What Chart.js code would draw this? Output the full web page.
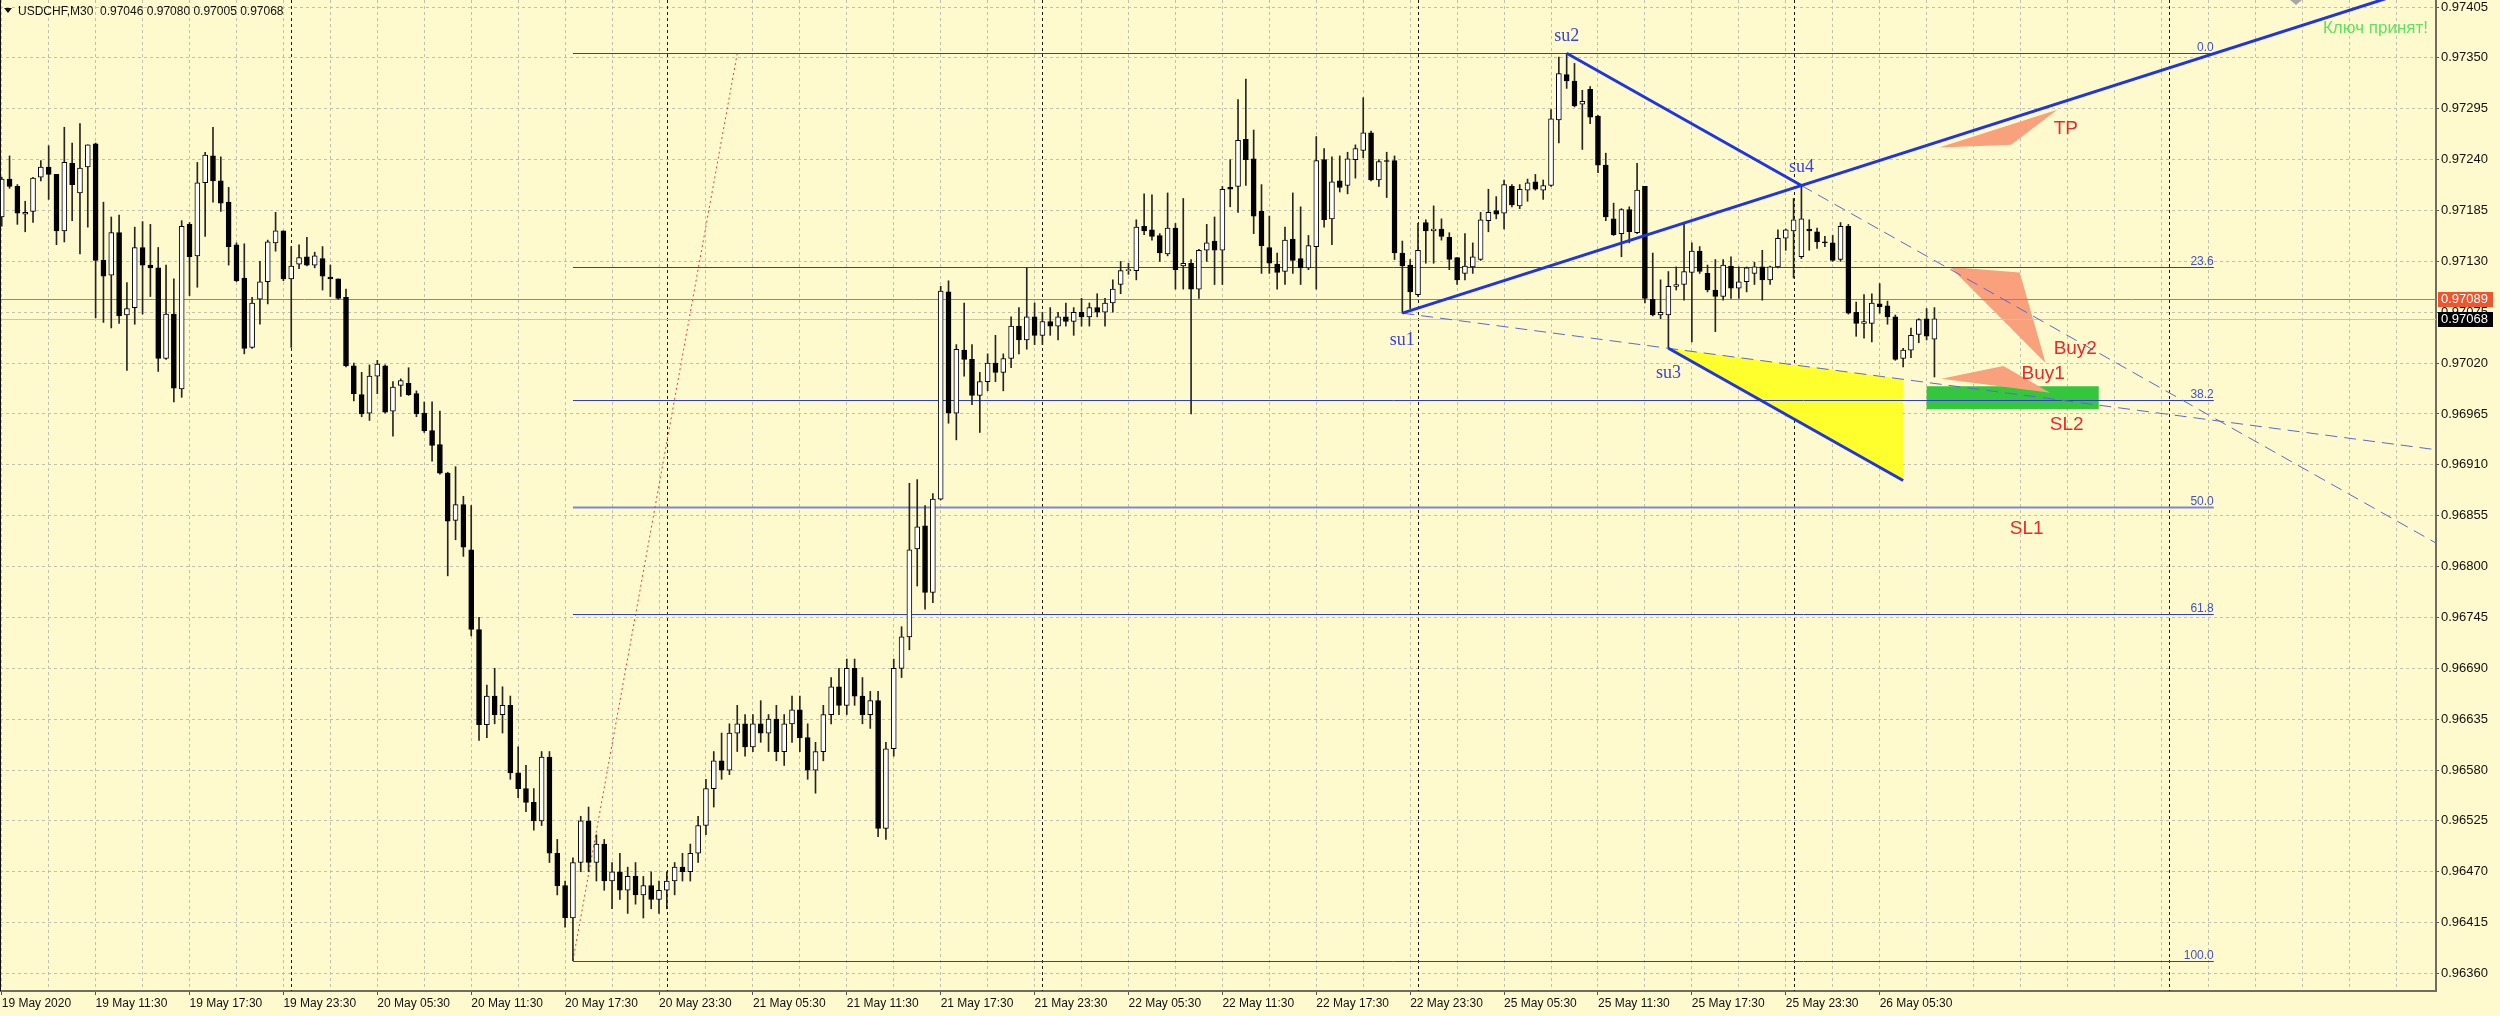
<!DOCTYPE html>
<html>
<head>
<meta charset="utf-8">
<script src="https://cdn.jsdelivr.net/npm/chart.js@4.4.1/dist/chart.umd.min.js"></script>
<style>
  html, body { margin: 0; padding: 0; background: #fffacd; }
  #wrap { width: 2500px; height: 1016px; }
</style>
</head>
<body>
<div id="wrap"><canvas id="c" width="2500" height="1016"></canvas></div>
<script>
// USDCHF M30, one entry per bar starting 19 May 05:30
const xLabels = ['19 May 2020', '19 May 11:30', '19 May 17:30', '19 May 23:30', '20 May 05:30', '20 May 11:30',
  '20 May 17:30', '20 May 23:30', '21 May 05:30', '21 May 11:30', '21 May 17:30', '21 May 23:30', '22 May 05:30',
  '22 May 11:30', '22 May 17:30', '22 May 23:30', '25 May 05:30', '25 May 11:30', '25 May 17:30', '25 May 23:30',
  '26 May 05:30'];
const yTicks = [0.96360, 0.96415, 0.96470, 0.96525, 0.96580, 0.96635, 0.96690, 0.96745, 0.96800, 0.96855,
  0.96910, 0.96965, 0.97020, 0.97075, 0.97130, 0.97185, 0.97240, 0.97295, 0.97350, 0.97405];

const openV = [
  0.97178,0.97219,0.97211,0.97181,0.97184,0.97221,0.97232,0.97224,0.97163,0.97236,0.97204,0.97232,
  0.97257,0.97131,0.97115,0.97161,0.97072,0.97080,0.97145,0.97126,0.97123,0.97025,0.97073,0.96992,
  0.97170,0.97136,0.97215,0.97244,0.97217,0.97194,0.97148,0.97112,0.97037,0.97089,0.97108,0.97150,
  0.97163,0.97111,0.97127,0.97135,0.97126,0.97133,0.97113,0.97111,0.97091,0.97017,0.96986,0.96966,
  0.97006,0.97017,0.96968,0.96996,0.96998,0.96987,0.96966,0.96947,0.96932,0.96901,0.96850,0.96867,
  0.96818,0.96732,0.96629,0.96660,0.96640,0.96650,0.96577,0.96560,0.96545,0.96525,0.96594,0.96490,
  0.96455,0.96420,0.96480,0.96525,0.96480,0.96500,0.96460,0.96470,0.96450,0.96465,0.96445,0.96455,
  0.96440,0.96450,0.96460,0.96475,0.96470,0.96490,0.96520,0.96560,0.96590,0.96580,0.96620,0.96630,
  0.96605,0.96630,0.96620,0.96635,0.96600,0.96630,0.96645,0.96615,0.96580,0.96600,0.96640,0.96670,
  0.96650,0.96690,0.96660,0.96640,0.96655,0.96517,0.96603,0.96690,0.96724,0.96819,0.96844,0.96772,
  0.96873,0.97097,0.96966,0.97034,0.97024,0.96985,0.97000,0.97020,0.97010,0.97025,0.97060,0.97045,
  0.97070,0.97050,0.97065,0.97060,0.97070,0.97065,0.97075,0.97070,0.97080,0.97075,0.97085,0.97105,
  0.97120,0.97120,0.97168,0.97164,0.97158,0.97138,0.97166,0.97125,0.97128,0.97100,0.97142,0.97152,
  0.97142,0.97210,0.97211,0.97262,0.97241,0.97184,0.97145,0.97127,0.97119,0.97154,0.97133,0.97123,
  0.97146,0.97240,0.97176,0.97217,0.97212,0.97240,0.97250,0.97269,0.97218,0.97239,0.97239,0.97139,
  0.97126,0.97094,0.97172,0.97163,0.97165,0.97156,0.97134,0.97117,0.97124,0.97132,0.97174,0.97185,
  0.97182,0.97211,0.97190,0.97207,0.97216,0.97207,0.97212,0.97283,0.97332,0.97325,0.97300,0.97316,
  0.97287,0.97234,0.97176,0.97160,0.97186,0.97161,0.97211,0.97089,0.97072,0.97072,0.97103,0.97105,
  0.97118,0.97141,0.97117,0.97099,0.97092,0.97125,0.97101,0.97108,0.97117,0.97124,0.97110,0.97124,
  0.97155,0.97163,0.97135,0.97165,0.97162,0.97151,0.97150,0.97132,0.97168,0.97075,0.97063,0.97063,
  0.97084,0.97082,0.97070,0.97025,0.97034,0.97051,0.97068,0.97046];
const highV = [
  0.97221,0.97244,0.97213,0.97195,0.97221,0.97239,0.97255,0.97224,0.97275,0.97258,0.97279,0.97256,
  0.97258,0.97194,0.97178,0.97180,0.97107,0.97167,0.97173,0.97170,0.97145,0.97126,0.97111,0.97174,
  0.97172,0.97237,0.97248,0.97275,0.97243,0.97210,0.97150,0.97149,0.97091,0.97130,0.97153,0.97183,
  0.97163,0.97146,0.97148,0.97156,0.97140,0.97146,0.97126,0.97111,0.97100,0.97020,0.97010,0.97018,
  0.97023,0.97018,0.97000,0.97003,0.97015,0.96990,0.96978,0.96978,0.96968,0.96902,0.96908,0.96876,
  0.96866,0.96745,0.96672,0.96690,0.96670,0.96660,0.96605,0.96585,0.96560,0.96600,0.96600,0.96505,
  0.96460,0.96485,0.96530,0.96540,0.96510,0.96505,0.96480,0.96490,0.96475,0.96480,0.96465,0.96470,
  0.96460,0.96470,0.96480,0.96490,0.96500,0.96530,0.96570,0.96600,0.96620,0.96630,0.96650,0.96640,
  0.96640,0.96655,0.96640,0.96650,0.96640,0.96660,0.96660,0.96630,0.96610,0.96650,0.96680,0.96690,
  0.96700,0.96700,0.96680,0.96665,0.96665,0.96610,0.96700,0.96735,0.96890,0.96894,0.96866,0.96879,
  0.97103,0.97109,0.97040,0.97085,0.97040,0.97010,0.97030,0.97050,0.97030,0.97070,0.97080,0.97123,
  0.97085,0.97075,0.97080,0.97075,0.97085,0.97080,0.97090,0.97085,0.97095,0.97090,0.97110,0.97130,
  0.97128,0.97175,0.97203,0.97202,0.97160,0.97204,0.97171,0.97198,0.97132,0.97143,0.97170,0.97178,
  0.97211,0.97240,0.97305,0.97327,0.97272,0.97213,0.97179,0.97139,0.97167,0.97204,0.97189,0.97158,
  0.97265,0.97252,0.97243,0.97244,0.97248,0.97256,0.97307,0.97271,0.97240,0.97248,0.97244,0.97152,
  0.97132,0.97171,0.97175,0.97190,0.97176,0.97161,0.97134,0.97160,0.97150,0.97183,0.97208,0.97200,
  0.97218,0.97213,0.97213,0.97219,0.97224,0.97218,0.97294,0.97351,0.97355,0.97344,0.97315,0.97319,
  0.97288,0.97247,0.97193,0.97187,0.97189,0.97236,0.97211,0.97139,0.97110,0.97119,0.97124,0.97172,
  0.97150,0.97146,0.97126,0.97132,0.97132,0.97135,0.97124,0.97124,0.97129,0.97142,0.97125,0.97164,
  0.97165,0.97198,0.97212,0.97175,0.97166,0.97157,0.97158,0.97172,0.97170,0.97086,0.97094,0.97095,
  0.97106,0.97087,0.97072,0.97036,0.97058,0.97068,0.97079,0.97080];
const lowV = [
  0.97168,0.97209,0.97170,0.97162,0.97172,0.97217,0.97197,0.97148,0.97151,0.97174,0.97138,0.97167,
  0.97069,0.97064,0.97058,0.97063,0.97012,0.97062,0.97073,0.97092,0.97011,0.97024,0.96978,0.96983,
  0.97093,0.97102,0.97157,0.97194,0.97184,0.97126,0.97108,0.97030,0.97036,0.97062,0.97084,0.97141,
  0.97109,0.97037,0.97122,0.97125,0.97123,0.97099,0.97092,0.97089,0.97016,0.96979,0.96962,0.96958,
  0.96987,0.96966,0.96941,0.96984,0.96985,0.96962,0.96945,0.96914,0.96900,0.96790,0.96829,0.96811,
  0.96725,0.96612,0.96615,0.96630,0.96620,0.96570,0.96550,0.96535,0.96515,0.96520,0.96480,0.96445,
  0.96410,0.96374,0.96470,0.96470,0.96460,0.96450,0.96430,0.96440,0.96425,0.96435,0.96420,0.96430,
  0.96425,0.96430,0.96445,0.96460,0.96460,0.96480,0.96510,0.96540,0.96570,0.96575,0.96600,0.96595,
  0.96600,0.96610,0.96600,0.96590,0.96585,0.96610,0.96600,0.96570,0.96555,0.96590,0.96630,0.96640,
  0.96640,0.96650,0.96630,0.96625,0.96508,0.96505,0.96595,0.96680,0.96710,0.96779,0.96754,0.96761,
  0.96872,0.96955,0.96937,0.97006,0.96975,0.96945,0.96990,0.97000,0.96990,0.97015,0.97030,0.97035,
  0.97040,0.97040,0.97050,0.97045,0.97060,0.97050,0.97060,0.97060,0.97070,0.97060,0.97075,0.97095,
  0.97116,0.97110,0.97159,0.97153,0.97130,0.97136,0.97100,0.97100,0.96965,0.97090,0.97130,0.97105,
  0.97105,0.97189,0.97183,0.97212,0.97160,0.97117,0.97117,0.97100,0.97105,0.97117,0.97105,0.97121,
  0.97100,0.97167,0.97148,0.97205,0.97203,0.97220,0.97242,0.97217,0.97211,0.97199,0.97132,0.97074,
  0.97079,0.97092,0.97128,0.97128,0.97153,0.97121,0.97105,0.97110,0.97117,0.97131,0.97162,0.97176,
  0.97165,0.97189,0.97187,0.97195,0.97207,0.97197,0.97211,0.97258,0.97317,0.97297,0.97251,0.97279,
  0.97226,0.97174,0.97158,0.97135,0.97150,0.97160,0.97085,0.97071,0.97068,0.97036,0.97099,0.97088,
  0.97043,0.97117,0.97097,0.97054,0.97088,0.97090,0.97090,0.97097,0.97105,0.97088,0.97105,0.97123,
  0.97142,0.97112,0.97133,0.97142,0.97144,0.97146,0.97130,0.97130,0.97073,0.97049,0.97047,0.97043,
  0.97074,0.97062,0.97023,0.97016,0.97026,0.97042,0.97045,0.97005];
const closeV = [
  0.97219,0.97211,0.97182,0.97183,0.97220,0.97232,0.97224,0.97163,0.97237,0.97213,0.97231,0.97256,
  0.97131,0.97114,0.97161,0.97071,0.97079,0.97145,0.97126,0.97123,0.97025,0.97073,0.96993,0.97168,
  0.97135,0.97215,0.97245,0.97217,0.97193,0.97146,0.97109,0.97036,0.97085,0.97108,0.97151,0.97163,
  0.97111,0.97125,0.97134,0.97126,0.97136,0.97114,0.97111,0.97090,0.97017,0.96987,0.96965,0.97006,
  0.97019,0.96967,0.96994,0.97001,0.96986,0.96965,0.96947,0.96931,0.96901,0.96849,0.96867,0.96821,
  0.96732,0.96629,0.96660,0.96640,0.96650,0.96577,0.96560,0.96545,0.96525,0.96594,0.96490,0.96455,
  0.96420,0.96480,0.96525,0.96480,0.96500,0.96460,0.96470,0.96450,0.96465,0.96445,0.96455,0.96440,
  0.96450,0.96460,0.96475,0.96470,0.96490,0.96520,0.96560,0.96590,0.96580,0.96620,0.96630,0.96605,
  0.96630,0.96620,0.96635,0.96600,0.96630,0.96645,0.96615,0.96580,0.96600,0.96640,0.96670,0.96650,
  0.96690,0.96660,0.96640,0.96655,0.96517,0.96603,0.96690,0.96724,0.96818,0.96843,0.96772,0.96873,
  0.97098,0.96966,0.97035,0.97024,0.96985,0.97000,0.97020,0.97010,0.97025,0.97060,0.97045,0.97070,
  0.97050,0.97065,0.97060,0.97070,0.97065,0.97075,0.97070,0.97080,0.97075,0.97085,0.97100,0.97120,
  0.97121,0.97167,0.97163,0.97157,0.97139,0.97166,0.97121,0.97128,0.97100,0.97142,0.97150,0.97142,
  0.97208,0.97208,0.97261,0.97240,0.97179,0.97147,0.97128,0.97118,0.97153,0.97131,0.97123,0.97147,
  0.97239,0.97175,0.97216,0.97210,0.97241,0.97252,0.97269,0.97218,0.97238,0.97238,0.97139,0.97125,
  0.97097,0.97142,0.97163,0.97165,0.97157,0.97132,0.97110,0.97125,0.97135,0.97175,0.97183,0.97181,
  0.97213,0.97191,0.97208,0.97215,0.97208,0.97212,0.97284,0.97333,0.97325,0.97298,0.97303,0.97286,
  0.97234,0.97178,0.97159,0.97186,0.97162,0.97207,0.97090,0.97072,0.97075,0.97103,0.97105,0.97119,
  0.97141,0.97119,0.97099,0.97092,0.97126,0.97101,0.97108,0.97123,0.97124,0.97110,0.97124,0.97155,
  0.97164,0.97175,0.97176,0.97163,0.97151,0.97150,0.97131,0.97168,0.97074,0.97063,0.97065,0.97085,
  0.97081,0.97070,0.97024,0.97034,0.97050,0.97067,0.97049,0.97068];

// Fibonacci retracement and the drawn objects (bar index, price)
const fibHigh = 0.97355, fibLow = 0.96374;
const fibLevels = [0.0, 23.6, 38.2, 50.0, 61.8, 100.0];
const fibFrom = 73, fibTo = 282.7, fibTopBar = 94;
const markPrice = 0.97089;
const lastPrice = closeV[closeV.length - 1];
const daySeparators = [37, 85, 133, 181, 229, 277];
const su1 = [179, lowV[179]], su2 = [200, highV[200]], su3 = [213, lowV[213]], su4 = [230, highV[230]];
const su3End = [243, 0.96893];
const zoneBox = [246, 268, 0.96970, 0.96995];
const tpShape = [[247.6, 0.97253], [262.7, 0.97294], [256.8, 0.97256]];
const buy2Shape = [[249.0, 0.97124], [257.9, 0.97118], [261.2, 0.97020]];
const buy1Shape = [[247.9, 0.97003], [255.8, 0.97017], [261.8, 0.96988]];
const notes = [['TP', 263.8, 0.97273], ['Buy2', 265.0, 0.97035], ['Buy1', 260.9, 0.97009],
  ['SL2', 263.9, 0.96953], ['SL1', 258.8, 0.96841]];

const BG = '#fffacd';
const GRID = '#c3c1ad';
const AXIS = '#6f6d5f';

const bars = openV.map((_, i) => i);
const gridBars = [];
for (let b = 0; b <= 306; b += 6) gridBars.push(b);

function P(chart, bar, price) {
  return [chart.scales.x.getPixelForValue(bar), chart.scales.y.getPixelForValue(price)];
}

function seg(ctx, a, b, color, w, dash) {
  ctx.save();
  ctx.strokeStyle = color;
  ctx.lineWidth = w;
  ctx.setLineDash(dash || []);
  ctx.beginPath();
  ctx.moveTo(a[0], a[1]);
  ctx.lineTo(b[0], b[1]);
  ctx.stroke();
  ctx.restore();
}

// point on the line through p and q, at bar
function along(p, q, bar) {
  return [bar, p[1] + (q[1] - p[1]) * (bar - p[0]) / (q[0] - p[0])];
}

function poly(chart, ctx, pts, color) {
  ctx.fillStyle = color;
  ctx.beginPath();
  pts.forEach((p, i) => {
    const [x, y] = P(chart, p[0], p[1]);
    if (i === 0) ctx.moveTo(x, y); else ctx.lineTo(x, y);
  });
  ctx.closePath();
  ctx.fill();
}

const overlay = {
  id: 'overlay',
  beforeDraw(chart) {
    const ctx = chart.ctx;
    ctx.save();
    ctx.fillStyle = BG;
    ctx.fillRect(0, 0, chart.width, chart.height);
    ctx.restore();
  },
  beforeDatasetsDraw(chart) {
    const { ctx, chartArea: a } = chart;
    ctx.save();
    ctx.beginPath();
    ctx.rect(a.left, a.top, a.right - a.left, a.bottom - a.top);
    ctx.clip();

    // period separators
    daySeparators.forEach(b => {
      const x = Math.round(chart.scales.x.getPixelForValue(b)) + 0.5;
      seg(ctx, [x, a.top], [x, a.bottom], '#1a1a1a', 1, [3, 3]);
    });

    // filled objects
    const su3Top = along(su1, su3, su3End[0]);
    poly(chart, ctx, [su3, su3Top, su3End], '#ffff2e');
    poly(chart, ctx, [[zoneBox[0], zoneBox[2]], [zoneBox[1], zoneBox[2]], [zoneBox[1], zoneBox[3]], [zoneBox[0], zoneBox[3]]], '#34c63c');
    poly(chart, ctx, tpShape, '#f9a07c');
    poly(chart, ctx, buy2Shape, '#f9a07c');
    poly(chart, ctx, buy1Shape, '#f9a07c');

    // fibo levels
    ctx.font = '12px "Liberation Sans"';
    ctx.textAlign = 'right';
    ctx.textBaseline = 'alphabetic';
    fibLevels.forEach(lv => {
      const price = fibHigh - (fibHigh - fibLow) * lv / 100;
      const y = Math.round(chart.scales.y.getPixelForValue(price)) + 0.5;
      const x1 = chart.scales.x.getPixelForValue(fibFrom);
      const x2 = chart.scales.x.getPixelForValue(fibTo);
      const thick = lv === 50.0;
      seg(ctx, [x1, y], [x2, y], thick ? '#7d88d6' : '#2f3fc6', thick ? 2 : 1);
      ctx.fillStyle = '#4252c8';
      ctx.fillText(lv.toFixed(1), x2, y - 3);
    });
    seg(ctx, P(chart, fibFrom, fibLow), P(chart, fibTopBar, fibHigh), '#e04040', 1, [2, 3]);

    // mark line and bid line
    const yr = Math.round(chart.scales.y.getPixelForValue(markPrice)) + 0.5;
    seg(ctx, [a.left, yr], [a.right, yr], '#f0643c', 1);
    const yb = Math.round(chart.scales.y.getPixelForValue(lastPrice)) + 0.5;
    seg(ctx, [a.left, yb], [a.right, yb], '#c4c4c4', 1);
    ctx.restore();
  },
  afterDatasetsDraw(chart) {
    const { ctx, chartArea: a } = chart;
    ctx.save();
    ctx.beginPath();
    ctx.rect(a.left, a.top, a.right - a.left, a.bottom - a.top);
    ctx.clip();

    const far = 340;
    // lower edge su1 - su3
    seg(ctx, P(chart, ...su1), P(chart, ...along(su1, su3, far)), '#5b6ad0', 1, [12, 7]);
    // su2 - su4, dashed after su4
    seg(ctx, P(chart, ...su4), P(chart, ...along(su2, su4, far)), '#5b6ad0', 1, [12, 7]);
    seg(ctx, P(chart, ...su2), P(chart, ...su4), '#1f35e0', 3);
    // su1 - su4 ray
    seg(ctx, P(chart, ...su1), P(chart, ...along(su1, su4, far)), '#1f35e0', 3);
    // su3 down leg
    seg(ctx, P(chart, ...su3), P(chart, ...su3End), '#1f35e0', 3);

    // point names
    ctx.font = '18px "Liberation Serif"';
    ctx.textAlign = 'center';
    ctx.textBaseline = 'middle';
    ctx.fillStyle = '#3a44d6';
    [['su1', su1, 27], ['su2', su2, -17], ['su3', su3, 25], ['su4', su4, -18]].forEach(([t, p, dy]) => {
      const [x, y] = P(chart, p[0], p[1]);
      ctx.fillText(t, x, y + dy);
    });

    ctx.font = '19px "Liberation Sans"';
    ctx.fillStyle = '#e52b2b';
    notes.forEach(([t, b, pr]) => {
      const [x, y] = P(chart, b, pr);
      ctx.fillText(t, x, y);
    });

    ctx.font = '17px "Liberation Sans"';
    ctx.textAlign = 'right';
    ctx.textBaseline = 'alphabetic';
    ctx.fillStyle = '#5fe35f';
    ctx.fillText('Ключ принят!', a.right - 8, 33);
    ctx.restore();
  },
  afterDraw(chart) {
    const { ctx, chartArea: a } = chart;
    ctx.save();
    // left frame edge
    ctx.fillStyle = '#111';
    ctx.fillRect(0, 0, 1, a.bottom);

    // header
    ctx.beginPath();
    ctx.moveTo(4, 8); ctx.lineTo(12, 8); ctx.lineTo(8, 13); ctx.closePath();
    ctx.fill();
    ctx.font = '12px "Liberation Sans"';
    ctx.textAlign = 'left';
    ctx.textBaseline = 'alphabetic';
    ctx.fillText('USDCHF,M30  ' + [openV, highV, lowV, closeV].map(s => s[s.length - 1].toFixed(5)).join(' '), 18, 15);

    // chart shift marker
    ctx.fillStyle = '#a8a8a8';
    ctx.beginPath();
    ctx.moveTo(2290, 0); ctx.lineTo(2302, 0); ctx.lineTo(2296, 5); ctx.closePath();
    ctx.fill();

    // price boxes on the axis
    ctx.font = '13px "Liberation Sans"';
    ctx.textBaseline = 'middle';
    [[markPrice, '#f0552d'], [lastPrice, '#000000']].forEach(([pr, col]) => {
      const y = Math.round(chart.scales.y.getPixelForValue(pr));
      ctx.fillStyle = col;
      ctx.fillRect(a.right + 2, y - 7, 55, 15);
      ctx.fillStyle = '#ffffff';
      ctx.fillText(pr.toFixed(5), a.right + 5, y + 0.5);
    });
    ctx.restore();
  }
};

new Chart(document.getElementById('c'), {
  type: 'bar',
  data: {
    datasets: [
      {
        data: bars.map(i => ({ x: i, y: [lowV[i], highV[i]] })),
        barThickness: 1,
        backgroundColor: '#262626',
        borderWidth: 0,
        grouped: false,
        order: 2
      },
      {
        data: bars.map(i => ({ x: i, y: [openV[i], closeV[i]] })),
        barThickness: 5,
        backgroundColor: c => closeV[c.dataIndex] >= openV[c.dataIndex] ? '#ffffff' : '#000000',
        borderColor: '#000000',
        borderWidth: 1,
        borderSkipped: false,
        minBarLength: 1,
        grouped: false,
        order: 1
      }
    ]
  },
  options: {
    responsive: false,
    animation: false,
    devicePixelRatio: 1,
    layout: { padding: 0 },
    plugins: { legend: { display: false }, tooltip: { enabled: false } },
    scales: {
      x: {
        type: 'linear',
        min: -0.22,
        max: 311.1,
        offset: false,
        afterBuildTicks: s => { s.ticks = gridBars.map(v => ({ value: v })); },
        afterFit: s => { s.height = 25; s.paddingLeft = 0; s.paddingRight = 0; },
        ticks: {
          autoSkip: false,
          maxRotation: 0,
          minRotation: 0,
          align: 'start',
          padding: 1,
          color: '#111',
          font: { family: 'Liberation Sans', size: 12 },
          callback: v => (v % 12 === 0 && v / 12 < xLabels.length) ? xLabels[v / 12] : ''
        },
        grid: {
          offset: false,
          color: GRID,
          lineWidth: 1,
          tickLength: 4,
          tickColor: c => (c.tick && c.tick.value % 12 === 0 && c.tick.value / 12 < xLabels.length) ? '#555' : 'rgba(0,0,0,0)'
        },
        border: { color: AXIS, width: 2, dash: [3, 3] }
      },
      y: {
        type: 'linear',
        position: 'right',
        min: 0.963411,
        max: 0.974126,
        afterBuildTicks: s => { s.ticks = yTicks.map(v => ({ value: v })); },
        afterFit: s => { s.width = 64; s.paddingTop = 0; s.paddingBottom = 0; },
        ticks: {
          padding: 2,
          color: '#111',
          font: { family: 'Liberation Sans', size: 13 },
          callback: v => v.toFixed(5)
        },
        grid: { color: GRID, lineWidth: 1, tickLength: 3, tickColor: '#555' },
        border: { color: AXIS, width: 2, dash: [3, 3] }
      }
    }
  },
  plugins: [overlay]
});
</script>
</body>
</html>
